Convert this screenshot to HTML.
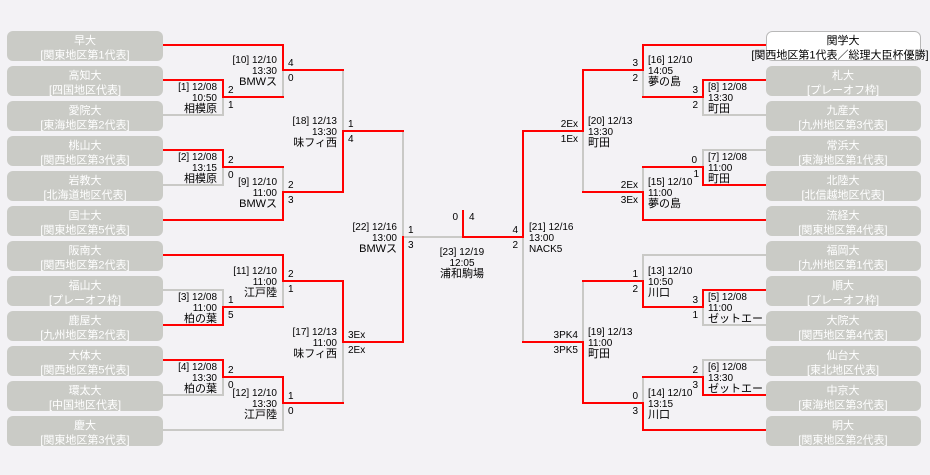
<!DOCTYPE html>
<html><head><meta charset="utf-8">
<style>
html,body{margin:0;padding:0;background:#f3f2f5;}
svg{display:block;font-family:"Liberation Sans","Noto Sans CJK JP",sans-serif;}
.bx{fill:#cacbc6;}
.bt{fill:#ffffff;font-size:11px;text-anchor:middle;}
.wt{fill:#000;font-size:11px;text-anchor:middle;}
.r{fill:none;stroke:#ff0000;stroke-width:2;stroke-linecap:square;}
.g{fill:none;stroke:#c9c9c6;stroke-width:2;stroke-linecap:square;}
.l{font-size:10px;fill:#000;}
.v{font-size:11px;fill:#000;}
.e{text-anchor:end;}
.m{text-anchor:middle;}
</style></head>
<body>
<svg width="930" height="475" viewBox="0 0 930 475" xmlns="http://www.w3.org/2000/svg">
<rect x="0" y="0" width="930" height="475" fill="#f3f2f5"/>

<!-- gray lines -->
<path class="g" d="M163 115 H223 V97"/>
<path class="g" d="M163 185 H223 V167"/>
<path class="g" d="M283 70 V97"/>
<path class="g" d="M283 167 V192"/>
<path class="g" d="M343 70 V131"/>
<path class="g" d="M163 290 H223 V307"/>
<path class="g" d="M283 281 V307"/>
<path class="g" d="M163 395 H223 V377"/>
<path class="g" d="M163 430 H283 V403"/>
<path class="g" d="M343 342 V403"/>
<path class="g" d="M403 131 V237 H463"/>
<path class="g" d="M523 237 V342"/>
<path class="g" d="M583 131 V192"/>
<path class="g" d="M643 70 V97"/>
<path class="g" d="M703 97 V115 H766"/>
<path class="g" d="M643 167 V192"/>
<path class="g" d="M766 150 H703 V167"/>
<path class="g" d="M583 281 V342"/>
<path class="g" d="M766 255 H643 V281"/>
<path class="g" d="M766 325 H703 V307"/>
<path class="g" d="M643 377 V403"/>
<path class="g" d="M766 360 H703 V377"/>

<!-- red lines -->
<path class="r" d="M163 80 H223 V97 H283"/>
<path class="r" d="M163 150 H223 V167 H283"/>
<path class="r" d="M163 45 H283 V70 H343"/>
<path class="r" d="M163 220 H283 V192 H343"/>
<path class="r" d="M343 192 V131 H403"/>
<path class="r" d="M163 325 H223 V307 H283"/>
<path class="r" d="M163 255 H283 V281 H343"/>
<path class="r" d="M163 360 H223 V377 H283"/>
<path class="r" d="M283 377 V403 H343"/>
<path class="r" d="M343 281 V342 H403"/>
<path class="r" d="M403 342 V237"/>
<path class="r" d="M463 211 V237 H523"/>
<path class="r" d="M523 237 V131"/>
<path class="r" d="M523 131 H583 V70 H643"/>
<path class="r" d="M643 70 V45 H766"/>
<path class="r" d="M643 97 H703 V80 H766"/>
<path class="r" d="M583 192 H643 V220 H766"/>
<path class="r" d="M643 167 H703 V185 H766"/>
<path class="r" d="M523 342 H583 V403 H643 V430 H766"/>
<path class="r" d="M583 281 H643 V307 H703 V290 H766"/>
<path class="r" d="M643 377 H703 V395 H766"/>

<!-- left boxes -->
<rect class="bx" x="7" y="31" width="156" height="30" rx="6"/>
<rect class="bx" x="7" y="66" width="156" height="30" rx="6"/>
<rect class="bx" x="7" y="101" width="156" height="30" rx="6"/>
<rect class="bx" x="7" y="136" width="156" height="30" rx="6"/>
<rect class="bx" x="7" y="171" width="156" height="30" rx="6"/>
<rect class="bx" x="7" y="206" width="156" height="30" rx="6"/>
<rect class="bx" x="7" y="241" width="156" height="30" rx="6"/>
<rect class="bx" x="7" y="276" width="156" height="30" rx="6"/>
<rect class="bx" x="7" y="311" width="156" height="30" rx="6"/>
<rect class="bx" x="7" y="346" width="156" height="30" rx="6"/>
<rect class="bx" x="7" y="381" width="156" height="30" rx="6"/>
<rect class="bx" x="7" y="416" width="156" height="30" rx="6"/>

<text class="bt" x="85" y="44">早大</text><text class="bt" x="85" y="58.5">[関東地区第1代表]</text>
<text class="bt" x="85" y="79">高知大</text><text class="bt" x="85" y="93.5">[四国地区代表]</text>
<text class="bt" x="85" y="114">愛院大</text><text class="bt" x="85" y="128.5">[東海地区第2代表]</text>
<text class="bt" x="85" y="149">桃山大</text><text class="bt" x="85" y="163.5">[関西地区第3代表]</text>
<text class="bt" x="85" y="184">岩教大</text><text class="bt" x="85" y="198.5">[北海道地区代表]</text>
<text class="bt" x="85" y="219">国士大</text><text class="bt" x="85" y="233.5">[関東地区第5代表]</text>
<text class="bt" x="85" y="254">阪南大</text><text class="bt" x="85" y="268.5">[関西地区第2代表]</text>
<text class="bt" x="85" y="289">福山大</text><text class="bt" x="85" y="303.5">[プレーオフ枠]</text>
<text class="bt" x="85" y="324">鹿屋大</text><text class="bt" x="85" y="338.5">[九州地区第2代表]</text>
<text class="bt" x="85" y="359">大体大</text><text class="bt" x="85" y="373.5">[関西地区第5代表]</text>
<text class="bt" x="85" y="394">環太大</text><text class="bt" x="85" y="408.5">[中国地区代表]</text>
<text class="bt" x="85" y="429">慶大</text><text class="bt" x="85" y="443.5">[関東地区第3代表]</text>

<!-- right boxes -->
<rect x="766.5" y="31.5" width="154" height="29" rx="6" fill="#ffffff" stroke="#b8b8b8" stroke-width="1"/>
<rect class="bx" x="766" y="66" width="155" height="30" rx="6"/>
<rect class="bx" x="766" y="101" width="155" height="30" rx="6"/>
<rect class="bx" x="766" y="136" width="155" height="30" rx="6"/>
<rect class="bx" x="766" y="171" width="155" height="30" rx="6"/>
<rect class="bx" x="766" y="206" width="155" height="30" rx="6"/>
<rect class="bx" x="766" y="241" width="155" height="30" rx="6"/>
<rect class="bx" x="766" y="276" width="155" height="30" rx="6"/>
<rect class="bx" x="766" y="311" width="155" height="30" rx="6"/>
<rect class="bx" x="766" y="346" width="155" height="30" rx="6"/>
<rect class="bx" x="766" y="381" width="155" height="30" rx="6"/>
<rect class="bx" x="766" y="416" width="155" height="30" rx="6"/>

<text class="wt" x="843" y="44">関学大</text><text class="wt" x="840" y="58.5">[関西地区第1代表／総理大臣杯優勝]</text>
<text class="bt" x="843" y="79">札大</text><text class="bt" x="843" y="93.5">[プレーオフ枠]</text>
<text class="bt" x="843" y="114">九産大</text><text class="bt" x="843" y="128.5">[九州地区第3代表]</text>
<text class="bt" x="843" y="149">常浜大</text><text class="bt" x="843" y="163.5">[東海地区第1代表]</text>
<text class="bt" x="843" y="184">北陸大</text><text class="bt" x="843" y="198.5">[北信越地区代表]</text>
<text class="bt" x="843" y="219">流経大</text><text class="bt" x="843" y="233.5">[関東地区第4代表]</text>
<text class="bt" x="843" y="254">福岡大</text><text class="bt" x="843" y="268.5">[九州地区第1代表]</text>
<text class="bt" x="843" y="289">順大</text><text class="bt" x="843" y="303.5">[プレーオフ枠]</text>
<text class="bt" x="843" y="324">大院大</text><text class="bt" x="843" y="338.5">[関西地区第4代表]</text>
<text class="bt" x="843" y="359">仙台大</text><text class="bt" x="843" y="373.5">[東北地区代表]</text>
<text class="bt" x="843" y="394">中京大</text><text class="bt" x="843" y="408.5">[東海地区第3代表]</text>
<text class="bt" x="843" y="429">明大</text><text class="bt" x="843" y="443.5">[関東地区第2代表]</text>

<!-- left match labels -->
<text class="l e" x="217" y="90">[1] 12/08</text><text class="l e" x="217" y="101">10:50</text><text class="v e" x="217" y="112">相模原</text>
<text class="l e" x="217" y="160">[2] 12/08</text><text class="l e" x="217" y="171">13:15</text><text class="v e" x="217" y="182">相模原</text>
<text class="l e" x="277" y="63">[10] 12/10</text><text class="l e" x="277" y="74">13:30</text><text class="v e" x="277" y="85">BMWス</text>
<text class="l e" x="277" y="185">[9] 12/10</text><text class="l e" x="277" y="196">11:00</text><text class="v e" x="277" y="207">BMWス</text>
<text class="l e" x="337" y="124">[18] 12/13</text><text class="l e" x="337" y="135">13:30</text><text class="v e" x="337" y="146">味フィ西</text>
<text class="l e" x="217" y="300">[3] 12/08</text><text class="l e" x="217" y="311">11:00</text><text class="v e" x="217" y="322">柏の葉</text>
<text class="l e" x="277" y="274">[11] 12/10</text><text class="l e" x="277" y="285">11:00</text><text class="v e" x="277" y="296">江戸陸</text>
<text class="l e" x="217" y="370">[4] 12/08</text><text class="l e" x="217" y="381">13:30</text><text class="v e" x="217" y="392">柏の葉</text>
<text class="l e" x="277" y="396">[12] 12/10</text><text class="l e" x="277" y="407">13:30</text><text class="v e" x="277" y="418">江戸陸</text>
<text class="l e" x="337" y="335">[17] 12/13</text><text class="l e" x="337" y="346">11:00</text><text class="v e" x="337" y="357">味フィ西</text>
<text class="l e" x="397" y="230">[22] 12/16</text><text class="l e" x="397" y="241">13:00</text><text class="v e" x="397" y="252">BMWス</text>

<!-- final label -->
<text class="l m" x="462" y="255">[23] 12/19</text><text class="l m" x="462" y="266">12:05</text><text class="v m" x="462" y="277">浦和駒場</text>
<text class="l e" x="458" y="220">0</text><text class="l" x="469" y="220">4</text>

<!-- right match labels -->
<text class="l" x="529" y="230">[21] 12/16</text><text class="l" x="529" y="241">13:00</text><text class="l" x="529" y="252">NACK5</text>
<text class="l" x="588" y="124">[20] 12/13</text><text class="l" x="588" y="135">13:30</text><text class="v" x="588" y="146">町田</text>
<text class="l" x="588" y="335">[19] 12/13</text><text class="l" x="588" y="346">11:00</text><text class="v" x="588" y="357">町田</text>
<text class="l" x="648" y="63">[16] 12/10</text><text class="l" x="648" y="74">14:05</text><text class="v" x="648" y="85">夢の島</text>
<text class="l" x="648" y="185">[15] 12/10</text><text class="l" x="648" y="196">11:00</text><text class="v" x="648" y="207">夢の島</text>
<text class="l" x="648" y="274">[13] 12/10</text><text class="l" x="648" y="285">10:50</text><text class="v" x="648" y="296">川口</text>
<text class="l" x="648" y="396">[14] 12/10</text><text class="l" x="648" y="407">13:15</text><text class="v" x="648" y="418">川口</text>
<text class="l" x="708" y="90">[8] 12/08</text><text class="l" x="708" y="101">13:30</text><text class="v" x="708" y="112">町田</text>
<text class="l" x="708" y="160">[7] 12/08</text><text class="l" x="708" y="171">11:00</text><text class="v" x="708" y="182">町田</text>
<text class="l" x="708" y="300">[5] 12/08</text><text class="l" x="708" y="311">11:00</text><text class="v" x="708" y="322">ゼットエー</text>
<text class="l" x="708" y="370">[6] 12/08</text><text class="l" x="708" y="381">13:30</text><text class="v" x="708" y="392">ゼットエー</text>

<!-- left scores -->
<text class="l" x="228" y="93">2</text><text class="l" x="228" y="108">1</text>
<text class="l" x="228" y="163">2</text><text class="l" x="228" y="178">0</text>
<text class="l" x="228" y="303">1</text><text class="l" x="228" y="318">5</text>
<text class="l" x="228" y="373">2</text><text class="l" x="228" y="388">0</text>
<text class="l" x="288" y="66">4</text><text class="l" x="288" y="81">0</text>
<text class="l" x="288" y="188">2</text><text class="l" x="288" y="203">3</text>
<text class="l" x="288" y="277">2</text><text class="l" x="288" y="292">1</text>
<text class="l" x="288" y="399">1</text><text class="l" x="288" y="414">0</text>
<text class="l" x="348" y="127">1</text><text class="l" x="348" y="142">4</text>
<text class="l" x="348" y="338">3Ex</text><text class="l" x="348" y="353">2Ex</text>
<text class="l" x="408" y="233">1</text><text class="l" x="408" y="248">3</text>

<!-- right scores -->
<text class="l e" x="518" y="233">4</text><text class="l e" x="518" y="248">2</text>
<text class="l e" x="578" y="127">2Ex</text><text class="l e" x="578" y="142">1Ex</text>
<text class="l e" x="578" y="338">3PK4</text><text class="l e" x="578" y="353">3PK5</text>
<text class="l e" x="638" y="66">3</text><text class="l e" x="638" y="81">2</text>
<text class="l e" x="638" y="188">2Ex</text><text class="l e" x="638" y="203">3Ex</text>
<text class="l e" x="638" y="277">1</text><text class="l e" x="638" y="292">2</text>
<text class="l e" x="638" y="399">0</text><text class="l e" x="638" y="414">3</text>
<text class="l e" x="698" y="93">3</text><text class="l e" x="698" y="108">2</text>
<text class="l e" x="697" y="163">0</text><text class="l e" x="699" y="177">1</text>
<text class="l e" x="698" y="303">3</text><text class="l e" x="698" y="318">1</text>
<text class="l e" x="698" y="373">2</text><text class="l e" x="698" y="388">3</text>
</svg>
</body></html>
